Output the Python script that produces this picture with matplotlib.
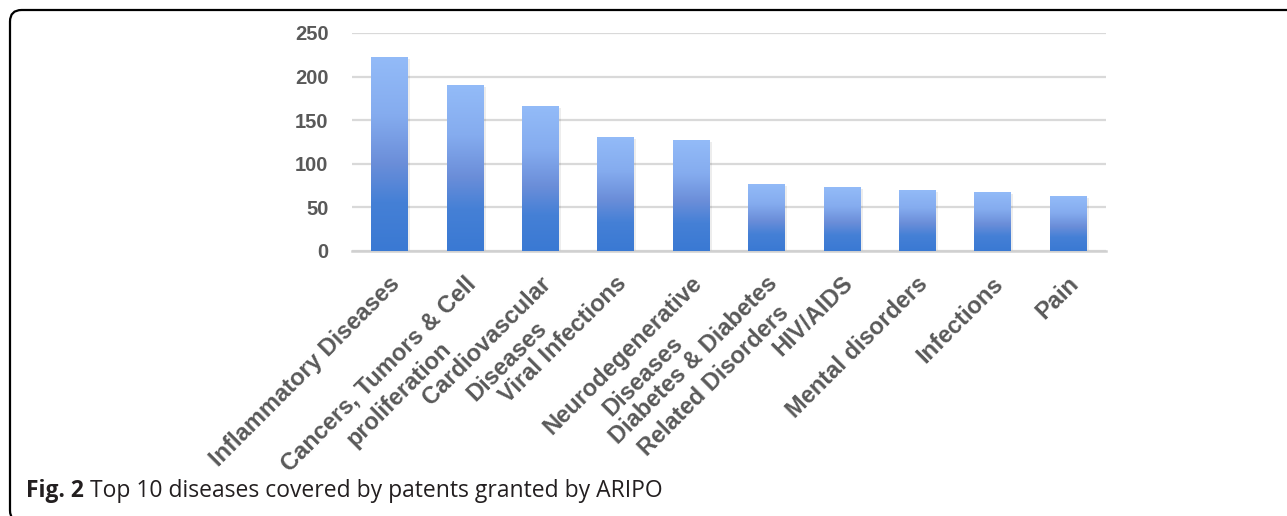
import numpy as np
import matplotlib.pyplot as plt
import matplotlib.transforms as mtransforms
from matplotlib.colors import LinearSegmentedColormap
from matplotlib.patches import FancyBboxPatch

# data
diseases = [
    "Inflammatory Diseases",
    "Cancers, Tumors & Cell\nproliferation",
    "Cardiovascular\nDiseases",
    "Viral Infections",
    "Neurodegenerative\nDiseases",
    "Diabetes & Diabetes\nRelated Disorders",
    "HIV/AIDS",
    "Mental disorders",
    "Infections",
    "Pain",
]
patents = [223, 190, 166, 131, 127, 77, 73, 70, 68, 63]
yticks = [0, 50, 100, 150, 200, 250]
caption_bold = "Fig. 2"
caption_text = " Top 10 diseases covered by patents granted by ARIPO"

W, H = 1287, 516
fig = plt.figure(figsize=(W / 100, H / 100), dpi=100)

# rounded frame (only top and left edges visible)
frame = FancyBboxPatch((10 / W, -6 / H), 1.2, (516 - 10 + 6) / H,
                       boxstyle="round,pad=0,rounding_size=0.009",
                       transform=fig.transFigure, fc="none", ec="black",
                       lw=1.6, mutation_aspect=W / H)
fig.patches.append(frame)

ax = fig.add_axes([352 / W, (H - 251) / H, (1106 - 352) / W, (251 - 33) / H])

grad = LinearSegmentedColormap.from_list(
    "bar", [(0.0, "#3a79d3"), (0.25, "#4580d6"), (0.45, "#6b8ed9"),
            (0.7, "#85acef"), (1.0, "#93bbf8")])
gimg = np.linspace(0, 1, 256).reshape(-1, 1)

x = np.arange(len(diseases))
bw = 0.49
px = mtransforms.ScaledTranslation(2 / 100, -2 / 100, fig.dpi_scale_trans)
for xi, v in zip(x, patents):
    # faint shadow
    ax.bar(xi, v, width=bw, color="black", alpha=0.07, zorder=2,
           transform=ax.transData + px)
    b = ax.bar(xi, v, width=bw, color="none", zorder=3)[0]
    im = ax.imshow(gimg, cmap=grad, origin="lower", aspect="auto",
                   extent=(xi - bw / 2, xi + bw / 2, 0, v), zorder=3)
    im.set_clip_path(b)

ax.set_xlim(-0.5, len(diseases) - 0.5)
ax.set_ylim(0, 250)
ax.set_yticks(yticks)
ax.yaxis.grid(True, color="#d9d9d9", lw=1.6)
ax.set_axisbelow(True)
for s in ["top", "right", "left"]:
    ax.spines[s].set_visible(False)
ax.spines["bottom"].set_color("#d0d0d0")
ax.spines["bottom"].set_linewidth(1.8)
ax.tick_params(axis="y", length=0, pad=17, labelsize=14.5, labelcolor="#595959")
for t in ax.get_yticklabels():
    t.set_fontfamily("Liberation Sans")
    t.set_fontweight("bold")
ax.set_xticks([])

# rotated category labels
off = mtransforms.ScaledTranslation(-1 / 100, -21 / 100, fig.dpi_scale_trans)
for xi, lab in zip(x, diseases):
    ax.text(xi, 0, lab, transform=ax.get_xaxis_transform() + off,
            rotation=45, rotation_mode="anchor", ha="right", va="top",
            multialignment="center", fontsize=17, color="#595959",
            family="Liberation Sans", fontweight="bold", linespacing=1.3)

fig.text(26 / W, 1 - 497 / H, caption_bold, fontsize=16.5, fontweight="bold",
         family="Open Sans", va="baseline", ha="left", color="#231f20")
fig.canvas.draw()
bb = fig.texts[0].get_window_extent()
fig.text(bb.x1 / W, 1 - 497 / H, caption_text, fontsize=16.5,
         family="Open Sans", va="baseline", ha="left", color="#231f20")

fig.savefig("out.png", dpi=100)
